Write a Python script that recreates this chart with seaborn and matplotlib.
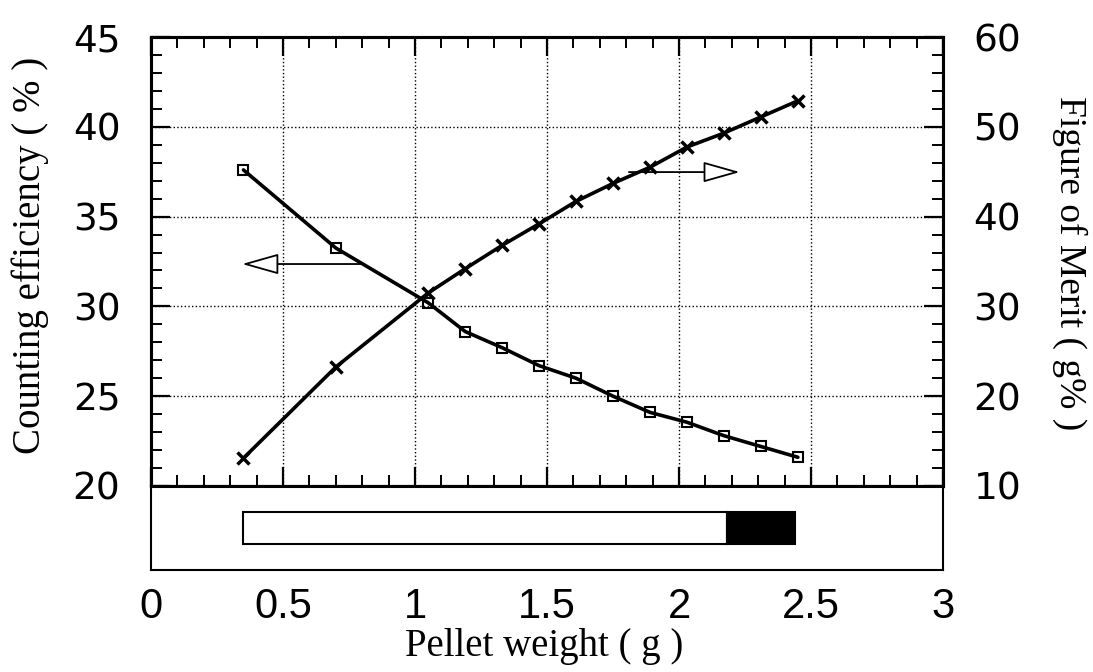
import matplotlib
matplotlib.use('Agg')
import matplotlib.pyplot as plt
from matplotlib.ticker import MultipleLocator
import seaborn as sns
import pandas as pd

# ---- data ----
weight = [0.35, 0.70, 1.05, 1.19, 1.33, 1.47, 1.61, 1.75, 1.89, 2.03, 2.17, 2.31, 2.45]
efficiency = [37.6, 33.25, 30.2, 28.6, 27.7, 26.7, 26.0, 25.0, 24.1, 23.55, 22.8, 22.2, 21.6]
merit = [13.1, 23.25, 31.5, 34.2, 36.8, 39.2, 41.7, 43.7, 45.5, 47.75, 49.3, 51.1, 52.9]

bar_start = [0.35, 2.18]
bar_end = [2.18, 2.44]
bar_fill = ['white', 'black']

x_ticks = [0, 0.5, 1, 1.5, 2, 2.5, 3]
x_labels = ['0', '0.5', '1', '1.5', '2', '2.5', '3']
left_ticks = [20, 25, 30, 35, 40, 45]
left_labels = ['20', '25', '30', '35', '40', '45']
right_ticks = [10, 20, 30, 40, 50, 60]
right_labels = ['10', '20', '30', '40', '50', '60']

df = pd.DataFrame({'weight': weight, 'efficiency': efficiency, 'merit': merit})

sns.set_theme(style='white')
plt.rcParams['font.family'] = ['Liberation Sans', 'DejaVu Sans']
plt.rcParams.update({'text.color': 'black', 'axes.labelcolor': 'black',
                     'xtick.color': 'black', 'ytick.color': 'black',
                     'axes.edgecolor': 'black'})
serif = ['Liberation Serif', 'DejaVu Serif']

fig = plt.figure(figsize=(10.93, 6.72), dpi=100)
ax = fig.add_axes([0.1382, 0.2768, 0.7246, 0.6681])
axb = fig.add_axes([0.1382, 0.1518, 0.7246, 0.1250])

# main curves
sns.lineplot(data=df, x='weight', y='efficiency', ax=ax, color='black', linewidth=2.6,
             marker='s', markersize=7, markerfacecolor='none', markeredgecolor='black',
             markeredgewidth=1.5, sort=False, zorder=3)
ax2 = ax.twinx()
sns.lineplot(data=df, x='weight', y='merit', ax=ax2, color='black', linewidth=2.6,
             marker='x', markersize=8, markeredgecolor='black', markeredgewidth=2.5,
             sort=False, zorder=3)

ax.set_xlim(0, 3)
ax.set_ylim(20, 45)
ax2.set_ylim(10, 60)

ax.xaxis.set_major_locator(MultipleLocator(0.5))
ax.xaxis.set_minor_locator(MultipleLocator(0.1))
ax.set_yticks(left_ticks, left_labels, fontsize=27, fontfamily='DejaVu Sans', color='black')
ax.yaxis.set_minor_locator(MultipleLocator(1))
ax2.set_yticks(right_ticks, right_labels, fontsize=27, fontfamily='DejaVu Sans', color='black')
ax2.yaxis.set_minor_locator(MultipleLocator(2))

ax.grid(True, which='major', linestyle=':', color='black', linewidth=1.0)

ax.tick_params(axis='x', which='both', direction='in', top=True, bottom=True, labelbottom=False)
ax.tick_params(axis='y', which='both', direction='in', left=True, right=False, pad=22)
ax2.tick_params(axis='y', which='both', direction='in', right=True, left=False, pad=22)
for a in (ax, ax2):
    a.tick_params(which='major', length=14, width=1.6, color='black')
    a.tick_params(which='minor', length=8, width=1.4, color='black')
    for s in a.spines.values():
        s.set_linewidth(2.2)
        s.set_color('black')

ax.set_xlabel('')
ax.set_ylabel('Counting efficiency ( % )', fontsize=28, fontfamily=serif, color='black')
ax.yaxis.set_label_coords(-0.153, 0.514)
ax.yaxis.label.set_verticalalignment('center')
ax2.set_ylabel('Figure of Merit ( g% )', fontsize=27, fontfamily=serif, rotation=270,
               color='black')
ax2.yaxis.set_label_coords(1.160, 0.497)
ax2.yaxis.label.set_verticalalignment('center')

# arrows pointing to the respective axes
arrow_kw = dict(arrowstyle='-|>,head_length=23,head_width=6.5', mutation_scale=1,
                fc='white', ec='black', lw=1.3, shrinkA=0, shrinkB=0)
ax.annotate('', xy=(0.345, 32.36), xytext=(0.80, 32.36), arrowprops=arrow_kw, zorder=4)
ax.annotate('', xy=(2.23, 37.48), xytext=(1.81, 37.48), arrowprops=arrow_kw, zorder=4)

# lower panel with range bar
widths = [e - s for s, e in zip(bar_start, bar_end)]
axb.barh(y=[0.5] * len(bar_start), width=widths, left=bar_start, height=0.39,
         color=bar_fill, edgecolor='black', linewidth=1.5)
axb.set_xlim(0, 3)
axb.set_ylim(0, 1)
axb.set_yticks([])
axb.set_xticks(x_ticks, x_labels, fontsize=30, color='black')
axb.tick_params(axis='x', length=0, pad=12)
for s in axb.spines.values():
    s.set_linewidth(1.5)
    s.set_color('black')
axb.set_xlabel('Pellet weight ( g )', fontsize=28, fontfamily=serif, color='black')
axb.xaxis.set_label_coords(0.497, -0.905)
axb.xaxis.label.set_verticalalignment('center')

fig.savefig('out.png', dpi=100)
